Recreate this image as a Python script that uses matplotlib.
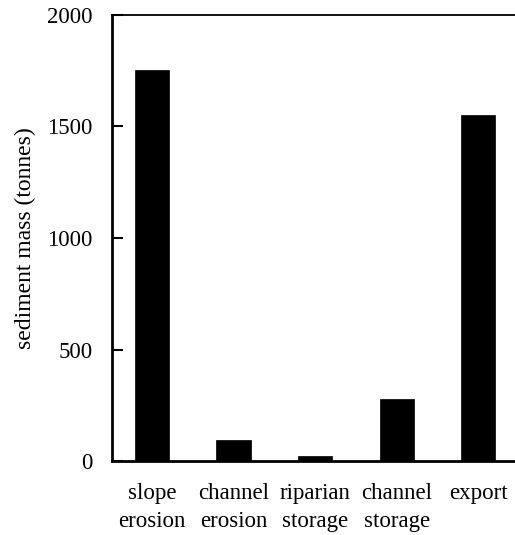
import numpy as np
import matplotlib.pyplot as plt

categories = ['slope\nerosion', 'channel\nerosion', 'riparian\nstorage', 'channel\nstorage', 'export']
mass = [1755, 95, 22, 278, 1550]
yticks = [0, 500, 1000, 1500, 2000]

plt.rcParams['font.family'] = ['Liberation Serif', 'DejaVu Serif']

fig = plt.figure(figsize=(5.15, 5.35), dpi=100)
ax = fig.add_axes([0.2175, 0.1383, 0.7825, 0.8337])

x = np.arange(len(categories))
ax.bar(x, mass, width=0.42, color='black', edgecolor='black', linewidth=0.5)

ax.set_xlim(-0.49, 4.45)
ax.set_ylim(0, 2000)
ax.set_yticks(yticks)
ax.set_xticks(x)
ax.set_xticklabels(categories, fontsize=16.5, linespacing=1.4)
ax.tick_params(axis='y', direction='in', length=8, width=1.5, labelsize=16.5, pad=14)
ax.tick_params(axis='x', length=0, pad=16)
ax.set_ylabel('sediment mass (tonnes)', fontsize=17, labelpad=8)

ax.spines['right'].set_visible(False)
ax.spines['left'].set_linewidth(2)
ax.spines['bottom'].set_linewidth(2)
ax.spines['top'].set_linewidth(1.3)

fig.savefig('out.png', dpi=100)
